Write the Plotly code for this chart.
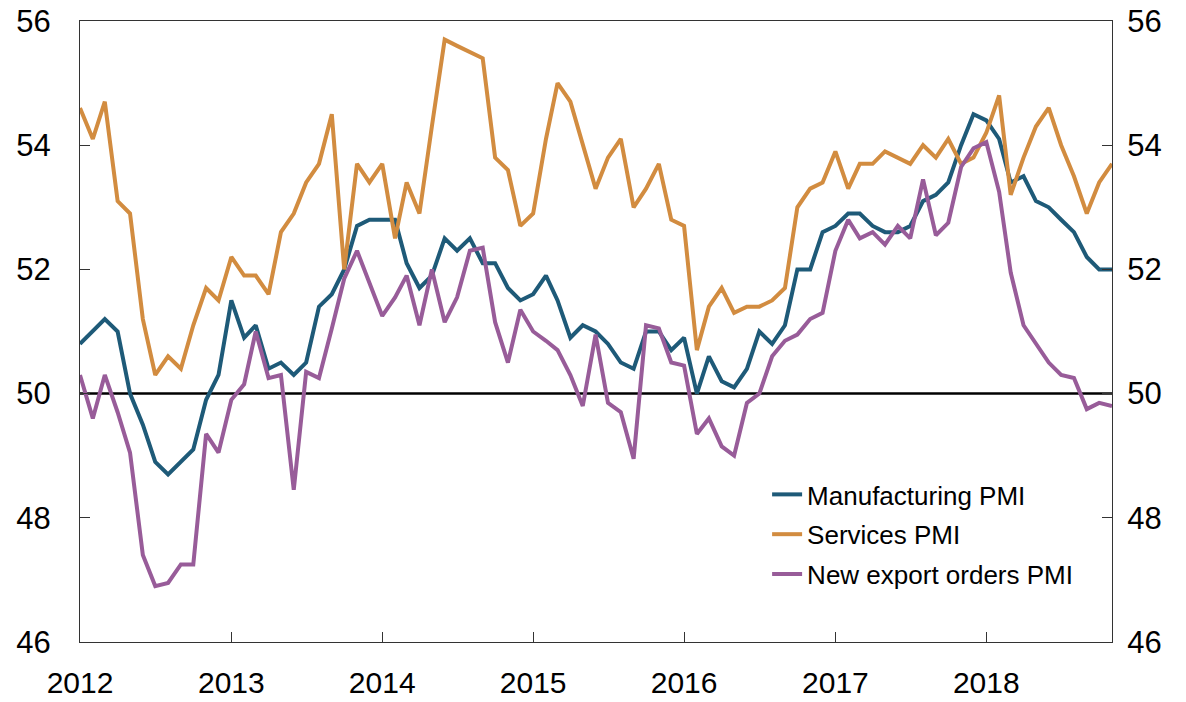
import pandas as pd
import plotly.graph_objects as go

# Monthly data, Jan 2012 - Nov 2018
start_month = "2012-01-01"
n_months = 83

manufacturing_pmi = [
    50.8, 51.0, 51.2, 51.0, 50.0, 49.5, 48.9, 48.7, 48.9, 49.1, 49.9, 50.3,
    51.5, 50.9, 51.1, 50.4, 50.5, 50.3, 50.5, 51.4, 51.6, 52.0, 52.7, 52.8,
    52.8, 52.8, 52.1, 51.7, 51.9, 52.5, 52.3, 52.5, 52.1, 52.1, 51.7, 51.5,
    51.6, 51.9, 51.5, 50.9, 51.1, 51.0, 50.8, 50.5, 50.4, 51.0, 51.0, 50.7,
    50.9, 50.0, 50.6, 50.2, 50.1, 50.4, 51.0, 50.8, 51.1, 52.0, 52.0, 52.6,
    52.7, 52.9, 52.9, 52.7, 52.6, 52.6, 52.7, 53.1, 53.2, 53.4, 54.0, 54.5,
    54.4, 54.1, 53.4, 53.5, 53.1, 53.0, 52.8, 52.6, 52.2, 52.0, 52.0,
]

services_pmi = [
    54.6, 54.1, 54.7, 53.1, 52.9, 51.2, 50.3, 50.6, 50.4, 51.1, 51.7, 51.5,
    52.2, 51.9, 51.9, 51.6, 52.6, 52.9, 53.4, 53.7, 54.5, 52.0, 53.7, 53.4,
    53.7, 52.5, 53.4, 52.9, 54.3, 55.7, 55.6, 55.5, 55.4, 53.8, 53.6, 52.7,
    52.9, 54.1, 55.0, 54.7, 54.0, 53.3, 53.8, 54.1, 53.0, 53.3, 53.7, 52.8,
    52.7, 50.7, 51.4, 51.7, 51.3, 51.4, 51.4, 51.5, 51.7, 53.0, 53.3, 53.4,
    53.9, 53.3, 53.7, 53.7, 53.9, 53.8, 53.7, 54.0, 53.8, 54.1, 53.7, 53.8,
    54.2, 54.8, 53.2, 53.8, 54.3, 54.6, 54.0, 53.5, 52.9, 53.4, 53.7,
]

new_export_orders_pmi = [
    50.3, 49.6, 50.3, 49.7, 49.05, 47.4, 46.9, 46.95, 47.25, 47.25, 49.35, 49.05,
    49.9, 50.15, 51.0, 50.25, 50.3, 48.45, 50.35, 50.25, 51.05, 51.85, 52.3, 51.8,
    51.25, 51.55, 51.9, 51.1, 52.0, 51.15, 51.55, 52.3, 52.35, 51.15, 50.5, 51.35,
    51.0, 50.85, 50.7, 50.3, 49.8, 50.95, 49.85, 49.7, 48.95, 51.1, 51.05, 50.5,
    50.45, 49.35, 49.6, 49.15, 49.0, 49.85, 50.0, 50.6, 50.85, 50.95, 51.2, 51.3,
    52.3, 52.8, 52.5, 52.6, 52.4, 52.7, 52.5, 53.45, 52.55, 52.75, 53.65, 53.95,
    54.05, 53.25, 51.95, 51.1, 50.8, 50.5, 50.3, 50.25, 49.75, 49.85, 49.8,
]

series_names = ["Manufacturing PMI", "Services PMI", "New export orders PMI"]
series_colors = ["#1e5a78", "#d28c40", "#985c99"]

year_ticks = [2012, 2013, 2014, 2015, 2016, 2017, 2018]
y_ticks = [46, 48, 50, 52, 54, 56]
y_range = [46, 56]
threshold = 50

dates = pd.date_range(start_month, periods=n_months, freq="MS")
FONT = "Liberation Sans, Arial, sans-serif"

fig = go.Figure()
for k, (name, vals, col) in enumerate(zip(series_names,
                           [manufacturing_pmi, services_pmi, new_export_orders_pmi],
                           series_colors)):
    fig.add_trace(go.Scatter(x=dates, y=vals, name=name, mode="lines",
                             legendgroup=f"g{k}",
                             line=dict(color=col, width=4)))

# invisible trace to anchor the right-hand axis
fig.add_trace(go.Scatter(x=[dates[0]], y=[threshold], yaxis="y2", mode="lines",
                         showlegend=False, hoverinfo="skip",
                         line=dict(color="rgba(0,0,0,0)")))

fig.add_hline(y=threshold, line=dict(color="black", width=2.5), layer="below")

tickvals_x = [pd.Timestamp(f"{y}-01-01") for y in year_ticks]
axis_common = dict(showline=True, linecolor="#333333", linewidth=1.3,
                   ticks="inside", ticklen=10, tickcolor="#333333", tickwidth=1.3,
                   showgrid=False, zeroline=False, automargin=False)

fig.update_layout(
    width=1186, height=702,
    margin=dict(l=80, r=74, t=21, b=60, autoexpand=False),
    paper_bgcolor="white", plot_bgcolor="white",
    font=dict(family=FONT, color="black"),
    xaxis=dict(range=[dates[0], dates[-1]], tickvals=tickvals_x,
               ticktext=[str(y) for y in year_ticks], mirror=True,
               ticklabelstandoff=14,
               tickfont=dict(family=FONT, size=30, color="black"), **axis_common),
    yaxis=dict(range=y_range, tickvals=y_ticks, mirror=False,
               ticklabelstandoff=22,
               tickfont=dict(family=FONT, size=31, color="black"), **axis_common),
    yaxis2=dict(range=y_range, tickvals=y_ticks, overlaying="y", side="right",
                ticklabelstandoff=8,
                tickfont=dict(family=FONT, size=31, color="black"), **axis_common),
    legend=dict(x=0.6658, y=0.2754, xanchor="left", yanchor="top",
                bgcolor="rgba(0,0,0,0)", font=dict(family=FONT, size=26),
                tracegroupgap=3),
    showlegend=True,
)

fig.write_html(
    "out.html",
    config={"displayModeBar": False},
    post_script="document.documentElement.style.margin='0';"
                "document.body.style.margin='0';"
                "document.body.style.overflow='hidden';",
)
